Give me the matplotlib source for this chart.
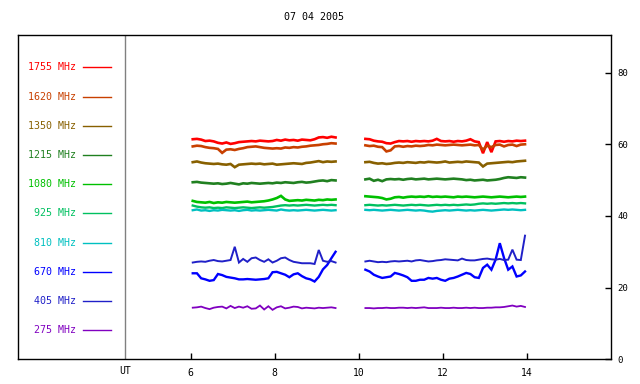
import numpy as np
import matplotlib
matplotlib.use("Agg")
import matplotlib.pyplot as plt

title = "07 04 2005"
freqs = ["1755 MHz", "1620 MHz", "1350 MHz", "1215 MHz", "1080 MHz",
         "925 MHz", "810 MHz", "670 MHz", "405 MHz", "275 MHz"]
colors = ["#ff0000", "#c84000", "#886000", "#208020", "#00c000",
          "#00c060", "#00c0c0", "#0000ff", "#2020c8", "#8000c0"]
widths = [1.9, 1.9, 1.9, 1.9, 1.9, 1.7, 1.7, 1.7, 1.4, 1.3]
xticks = [6, 8, 10, 12, 14]
yticks = [0, 20, 40, 60, 80]

# time bases (UT hours) of the two observing segments
t1 = np.round(np.arange(6.05, 9.46, 0.1), 2)    # 35 samples
t2 = np.round(np.arange(10.16, 13.97, 0.1), 2)  # 39 samples

s1_1755 = [61.4, 61.5, 61.3, 60.9, 61.0, 60.8, 60.4, 60.2, 60.5, 60.1, 60.3, 60.6, 60.7, 60.8, 60.9, 60.8, 61.0, 60.9,
           60.8, 60.9, 61.2, 61.0, 61.3, 61.1, 61.2, 61.0, 61.3, 61.2, 61.1, 61.4, 61.9, 62.0, 61.8, 62.1, 61.9]
s1_1620 = [59.4, 59.6, 59.5, 59.2, 59.0, 58.9, 58.7, 57.6, 58.5, 58.6, 58.4, 58.7, 58.9, 59.2, 59.3, 59.4, 59.2, 59.0,
           58.9, 58.8, 58.9, 58.8, 59.1, 59.0, 59.2, 59.1, 59.3, 59.4, 59.6, 59.7, 59.8, 60.0, 60.1, 60.3, 60.2]
s1_1350 = [55.0, 55.2, 54.9, 54.7, 54.6, 54.5, 54.6, 54.4, 54.3, 54.5, 53.6, 54.3, 54.4, 54.5, 54.6, 54.5, 54.6, 54.4,
           54.5, 54.6, 54.3, 54.4, 54.5, 54.6, 54.7, 54.6, 54.5, 54.8, 54.9, 55.1, 55.3, 55.0, 55.2, 55.1, 55.2]
s1_1215 = [49.4, 49.5, 49.3, 49.2, 49.1, 49.0, 49.1, 48.9, 49.0, 49.2, 49.0, 48.8, 49.1, 49.0, 49.2, 49.1, 49.0, 49.1,
           49.2, 49.1, 49.3, 49.2, 49.4, 49.3, 49.2, 49.4, 49.5, 49.3, 49.4, 49.6, 49.8, 49.9, 49.7, 50.0, 49.9]
s1_1080 = [44.2, 43.9, 43.8, 43.7, 43.9, 43.6, 43.8, 43.7, 43.9, 43.8, 43.7, 43.8, 43.9, 44.0, 43.8, 43.9, 44.0, 44.1,
           44.3, 44.6, 45.0, 45.6, 44.6, 44.2, 44.3, 44.4, 44.3, 44.5, 44.4, 44.3, 44.5, 44.4, 44.6, 44.5, 44.6]
s1_925 = [42.9, 42.6, 42.4, 42.3, 42.4, 42.2, 42.3, 42.2, 42.4, 42.3, 42.2, 42.3, 42.4, 42.3, 42.2, 42.3, 42.4, 42.3,
          42.4, 42.5, 42.7, 42.9, 43.0, 42.9, 43.0, 42.9, 43.0, 43.1, 43.0, 42.9, 43.0, 43.1, 43.0, 43.1, 43.0]
s1_810 = [41.6, 41.8, 41.5, 41.6, 41.4, 41.6, 41.5, 41.7, 41.6, 41.5, 41.6, 41.4, 41.6, 41.7, 41.5, 41.6, 41.5, 41.6,
          41.7, 41.6, 41.5, 41.8, 41.6, 41.5, 41.6, 41.5, 41.6, 41.7, 41.6, 41.5, 41.6, 41.7, 41.6, 41.5, 41.6]
s1_670 = [24.0, 24.0, 22.6, 22.3, 21.9, 22.1, 23.8, 23.5, 23.0, 22.8, 22.6, 22.3, 22.3, 22.4, 22.3, 22.2, 22.3, 22.4,
          22.6, 24.3, 24.4, 24.0, 23.6, 22.9, 23.7, 24.0, 23.2, 22.6, 22.3, 21.7, 23.0, 25.1, 26.3, 28.2, 30.0]
s1_405 = [27.0, 27.2, 27.3, 27.2, 27.5, 27.7, 27.4, 27.3, 27.5, 27.7, 31.4, 27.0, 28.0, 27.2, 28.2, 28.4, 27.7, 27.2,
          27.9, 27.0, 27.5, 28.2, 28.4, 27.7, 27.2, 27.0, 26.8, 26.8, 26.8, 26.6, 30.5, 27.5, 27.2, 27.4, 27.0]
s1_275 = [14.4, 14.5, 14.7, 14.3, 14.0, 14.4, 14.6, 14.7, 14.2, 14.9, 14.3, 14.7, 14.4, 14.8, 14.1, 14.2, 15.0, 13.9,
          14.8, 13.8, 14.5, 14.8, 14.2, 14.4, 14.7, 14.6, 14.2, 14.4, 14.3, 14.2, 14.4, 14.3, 14.4, 14.5, 14.3]

s2_1755 = [61.5, 61.4, 61.0, 60.8, 60.7, 60.3, 60.2, 60.6, 60.9, 60.8, 60.9, 60.7, 60.9, 60.8, 60.9, 60.8, 61.0, 61.5,
           60.9, 60.8, 60.9, 60.7, 60.9, 60.8, 61.0, 61.4, 60.8, 60.6, 57.5, 60.6, 57.8, 60.8, 60.9, 60.7, 60.9, 60.8,
           61.0, 60.9, 61.0]
s2_1620 = [59.7, 59.5, 59.6, 59.3, 59.2, 58.0, 58.3, 59.4, 59.5, 59.3, 59.5, 59.4, 59.6, 59.5, 59.6, 59.8, 59.7, 59.9,
           59.8, 59.7, 59.8, 59.9, 59.8, 59.7, 59.8, 59.9, 59.7, 59.8, 58.5, 59.6, 59.2, 59.8, 59.9, 59.4, 59.8, 59.9,
           59.5, 59.9, 60.0]
s2_1350 = [55.0, 55.1, 54.8, 54.6, 54.7, 54.5, 54.6, 54.8, 54.9, 54.8, 55.0, 54.9, 54.8, 55.0, 54.9, 55.1, 55.0, 54.9,
           55.0, 55.2, 54.9, 55.0, 55.1, 55.0, 55.2, 55.1, 55.0, 54.9, 53.8, 54.6, 54.7, 54.8, 54.9, 55.0, 55.1, 55.0,
           55.2, 55.3, 55.4]
s2_1215 = [50.2, 50.4, 49.8, 50.1, 49.7, 50.2, 50.3, 50.2, 50.3, 50.1, 50.3, 50.4, 50.2, 50.3, 50.4, 50.2, 50.3, 50.4,
           50.3, 50.2, 50.3, 50.4, 50.3, 50.2, 50.0, 50.1, 49.9, 50.0, 50.1, 49.9, 50.0, 50.1, 50.3, 50.6, 50.8, 50.7,
           50.6, 50.8, 50.7]
s2_1080 = [45.5, 45.4, 45.3, 45.2, 45.0, 44.6, 44.8, 45.2, 45.3, 45.1, 45.3, 45.4, 45.3, 45.4, 45.3, 45.5, 45.3, 45.4,
           45.3, 45.4, 45.3, 45.2, 45.4, 45.3, 45.4, 45.3, 45.2, 45.3, 45.4, 45.3, 45.2, 45.3, 45.4, 45.3, 45.2, 45.3,
           45.4, 45.3, 45.4]
s2_925 = [43.0, 43.1, 43.0, 42.9, 43.0, 42.9, 43.0, 43.1, 43.0, 42.9, 43.0, 43.1, 43.0, 43.1, 43.0, 42.9, 43.0, 43.1,
          43.0, 43.1, 43.0, 43.1, 43.0, 43.1, 43.2, 43.1, 43.2, 43.4, 43.5, 43.4, 43.5, 43.4, 43.5, 43.6, 43.5, 43.6,
          43.5, 43.6, 43.5]
s2_810 = [41.7, 41.6, 41.7, 41.6, 41.5, 41.6, 41.7, 41.6, 41.5, 41.6, 41.7, 41.6, 41.5, 41.6, 41.5, 41.3, 41.2, 41.4,
          41.5, 41.6, 41.5, 41.6, 41.7, 41.6, 41.5, 41.6, 41.5, 41.6, 41.7, 41.6, 41.5, 41.6, 41.7, 41.8, 41.7, 41.8,
          41.7, 41.6, 41.7]
s2_670 = [25.0, 24.5, 23.6, 23.1, 22.7, 22.9, 23.1, 24.1, 23.8, 23.4, 22.9, 21.9, 21.9, 22.2, 22.2, 22.7, 22.5, 22.7,
          22.2, 21.9, 22.5, 22.7, 23.1, 23.6, 24.1, 23.8, 22.9, 22.7, 25.5, 26.4, 25.0, 27.8, 32.4, 28.3, 25.0, 25.9,
          23.1, 23.4, 24.5]
s2_405 = [27.3, 27.5, 27.3, 27.1, 27.2, 27.1, 27.3, 27.4, 27.3, 27.4, 27.5, 27.3, 27.6, 27.7, 27.5, 27.3, 27.4, 27.6,
          27.7, 27.9, 27.8, 27.7, 27.6, 28.1, 27.7, 27.6, 27.6, 27.8, 28.0, 28.1, 27.9, 27.8, 28.0, 27.7, 27.8, 30.6,
          27.8, 27.7, 34.5]
s2_275 = [14.3, 14.3, 14.2, 14.3, 14.3, 14.4, 14.3, 14.3, 14.4, 14.4, 14.3, 14.4, 14.3, 14.4, 14.5, 14.3, 14.3, 14.3,
          14.4, 14.3, 14.3, 14.4, 14.3, 14.3, 14.4, 14.3, 14.4, 14.3, 14.3, 14.4, 14.4, 14.5, 14.5, 14.6, 14.8, 15.0,
          14.7, 14.9, 14.6]

seg1 = [s1_1755, s1_1620, s1_1350, s1_1215, s1_1080, s1_925, s1_810, s1_670, s1_405, s1_275]
seg2 = [s2_1755, s2_1620, s2_1350, s2_1215, s2_1080, s2_925, s2_810, s2_670, s2_405, s2_275]

mono = "DejaVu Sans Mono"
fig = plt.figure(figsize=(6.4, 3.84), dpi=100)
ax = fig.add_axes([18 / 640, 1 - 359.3 / 384, (610.7 - 18) / 640, (359.3 - 35.3) / 384])
ax.set_xlim(1.89, 16.0)
ax.set_ylim(0, 90.4)

for i in range(len(freqs)):
    ax.plot(t1, seg1[i], color=colors[i], lw=widths[i], solid_joinstyle="miter")
    ax.plot(t2, seg2[i], color=colors[i], lw=widths[i], solid_joinstyle="miter")

# separator between legend area and plotting area
ax.axvline(4.44, color="#808080", lw=1)

# legend column
for i, (lab, c) in enumerate(zip(freqs, colors)):
    yv = 81.45 - 8.15 * i
    ax.text(3.27, yv, lab, color=c, ha="right", va="center", fontsize=7.2, family=mono)
    ax.plot([3.43, 4.11], [yv, yv], color=c, lw=1)

ax.set_xticks(xticks)
ax.set_xticklabels([str(v) for v in xticks], fontsize=7, family=mono)
ax.set_yticks(yticks)
ax.set_yticklabels([str(v) for v in yticks], fontsize=6.5, family=mono)
ax.yaxis.tick_right()
ax.tick_params(axis="both", direction="in", length=4, width=1, color="black")
ax.tick_params(axis="x", pad=6, bottom=True, top=False)
ax.tick_params(axis="y", pad=5, right=True, left=False)
ax.text(4.44, -2.0, "UT", ha="center", va="top", fontsize=7, family=mono)
for s in ax.spines.values():
    s.set_linewidth(1)

fig.text(314.5 / 640, 1 - 17 / 384, title, ha="center", va="center", fontsize=7.2, family=mono)

fig.savefig("out.png", dpi=100)
